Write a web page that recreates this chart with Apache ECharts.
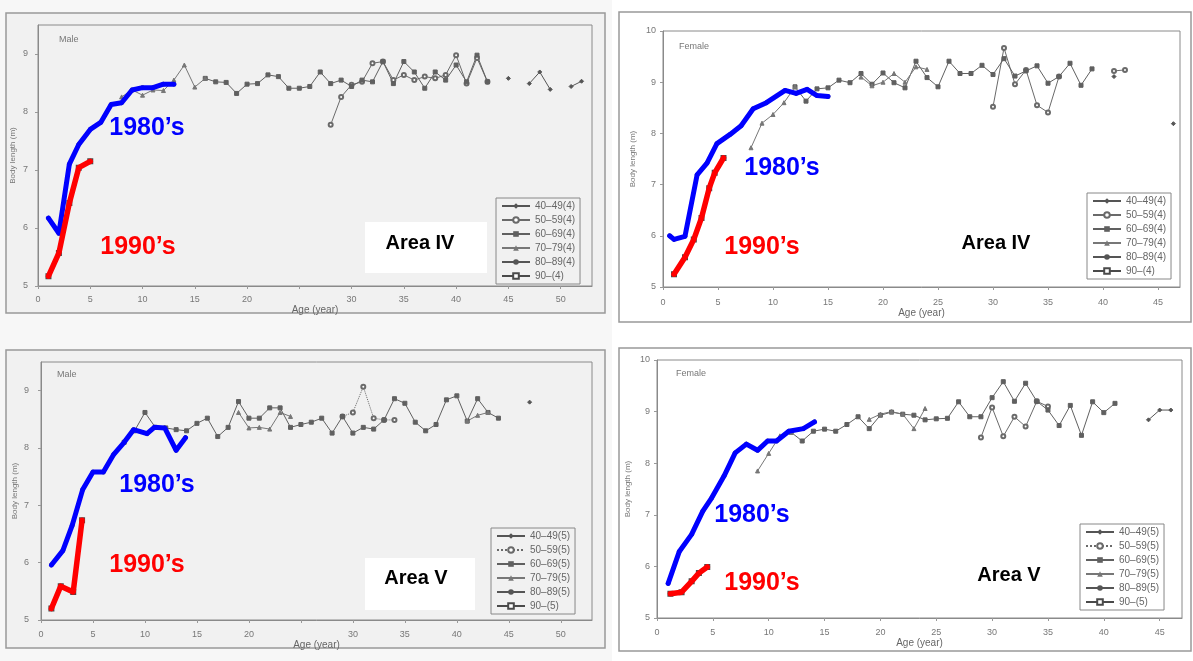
<!DOCTYPE html>
<html><head><meta charset="utf-8">
<script src="https://cdn.jsdelivr.net/npm/echarts@6/dist/echarts.min.js"></script>
<style>html,body{margin:0;padding:0;background:#fff}#c{width:1193px;height:661px}</style>
</head><body><div id="c"></div>
<script>
// ---------------- DATA ----------------
const legendIV = ['40–49(4)', '50–59(4)', '60–69(4)', '70–79(4)', '80–89(4)', '90–(4)'];
const legendV  = ['40–49(5)', '50–59(5)', '60–69(5)', '70–79(5)', '80–89(5)', '90–(5)'];
const xTicksMale = [0, 5, 10, 15, 20, 25, 30, 35, 40, 45, 50];
const xTicksFemale = [0, 5, 10, 15, 20, 25, 30, 35, 40, 45];

// Area IV, male
const maleIV_1980s = [[1,6.17],[2,5.91],[3,7.10],[3.9,7.44],[5,7.70],[6,7.82],[7,8.13],[8,8.16],[9,8.38],[10,8.42],[11,8.42],[12,8.48],[13,8.48]];
const maleIV_1990s = [[1,5.17],[2,5.57],[3,6.43],[3.9,7.04],[5,7.15]];
const maleIV_40s = [[45,8.58],[46,'-'],[47,8.49],[48,8.69],[49,8.39],[50,'-'],[51,8.44],[52,8.53]];
const maleIV_50s = [[28,7.78],[29,8.26],[30,8.47],[31,8.52],[32,8.84],[33,8.87],[34,8.55],[35,8.64],[36,8.55],[37,8.61],[38,8.58],[39,8.64],[40,8.98],[41,8.49],[42,8.93],[43,8.52]];
const maleIV_60s = [[16,8.58],[17,8.52],[18,8.51],[19,8.32],[20,8.48],[21,8.49],[22,8.64],[23,8.61],[24,8.41],[25,8.41],[26,8.44],[27,8.69],[28,8.49],[29,8.55],[30,8.44],[31,8.55],[32,8.52],[33,8.87],[34,8.49],[35,8.87],[36,8.69],[37,8.41],[38,8.69],[39,8.55],[40,8.81],[41,8.52],[42,8.98],[43,8.52]];
const maleIV_70s = [[8,8.26],[9,8.38],[10,8.29],[11,8.38],[12,8.37],[13,8.55],[14,8.81],[15,8.43],[16,8.58]];

// Area IV, female
const femaleIV_1980s = [[0.6,6.00],[1,5.93],[2,5.99],[3.1,7.19],[4,7.42],[4.9,7.80],[6.1,7.98],[7.1,8.15],[8.2,8.48],[9.4,8.60],[11.1,8.84],[12.1,8.78],[13.1,8.86],[14,8.74],[15,8.72]];
const femaleIV_1990s = [[1,5.25],[2,5.58],[2.8,5.93],[3.5,6.35],[4.2,6.93],[4.7,7.23],[5.5,7.52]];
const femaleIV_40s = [[41,9.11],[42,'-'],[46.4,8.19]];
const femaleIV_50s = [[30,8.52],[31,9.67],[32,8.96],[33,9.24],[34,8.55],[35,8.41],[36,9.11],[37,'-'],[41,9.22],[42,9.24]];
const femaleIV_60s = [[12,8.91],[13,8.63],[14,8.87],[15,8.89],[16,9.04],[17,8.99],[18,9.17],[19,8.96],[20,9.18],[21,8.99],[22,8.89],[23,9.41],[24,9.09],[25,8.91],[26,9.41],[27,9.17],[28,9.17],[29,9.33],[30,9.15],[31,9.46],[32,9.12],[33,9.22],[34,9.32],[35,8.98],[36,9.11],[37,9.37],[38,8.94],[39,9.26]];
const femaleIV_70s = [[8,7.72],[9,8.20],[10,8.37],[11,8.60],[12,8.91],[13,'-'],[18,9.10],[19,8.93],[20,9.00],[21,9.17],[22,9.00],[23,9.30],[24,9.25]];

// Area V, male
const maleV_1980s = [[1,5.96],[2.1,6.21],[3,6.65],[4,7.27],[5,7.58],[6,7.58],[7,7.89],[8,8.10],[8.9,8.32],[10.2,8.25],[10.9,8.36],[11.9,8.35],[13,7.96],[13.9,8.18]];
const maleV_1990s = [[1,5.20],[1.9,5.59],[3.1,5.49],[3.95,6.74]];
const maleV_40s = [[47,8.80]];
const maleV_50s = [[29,8.55],[30,8.62],[31,9.07],[32,8.52],[33,8.49],[34,8.49]];
const maleV_60s = [[8,8.10],[9,8.30],[10,8.62],[11,8.36],[12,8.35],[13,8.32],[14,8.30],[15,8.43],[16,8.52],[17,8.20],[18,8.36],[19,8.81],[20,8.52],[21,8.52],[22,8.70],[23,8.70],[24,8.36],[25,8.41],[26,8.45],[27,8.52],[28,8.26],[29,8.55],[30,8.26],[31,8.36],[32,8.33],[33,8.49],[34,8.86],[35,8.78],[36,8.45],[37,8.30],[38,8.41],[39,8.84],[40,8.91],[41,8.47],[42,8.86],[43,8.62],[44,8.52]];
const maleV_70s = [[19,8.62],[20,8.35],[21,8.36],[22,8.33],[23,8.62],[24,8.55],[25,'-'],[41,8.47],[42,8.57],[43,8.62]];

// Area V, female
const femaleV_1980s = [[1,5.67],[2,6.29],[3.1,6.62],[4.1,7.07],[4.9,7.33],[6,7.75],[7,8.20],[8,8.37],[9,8.25],[9.9,8.43],[10.7,8.43],[11.8,8.62],[13.1,8.67],[14.1,8.80]];
const femaleV_1990s = [[1.2,5.47],[2.2,5.50],[3.1,5.71],[3.75,5.87],[4.5,5.99]];
const femaleV_40s = [[44,8.84],[45,9.03],[46,9.03]];
const femaleV_50s = [[29,8.50],[30,9.08],[31,8.52],[32,8.90],[33,8.71],[34,9.20],[35,9.10]];
const femaleV_60s = [[12,8.60],[13,8.43],[14,8.62],[15,8.66],[16,8.62],[17,8.75],[18,8.90],[19,8.67],[20,8.93],[21,8.99],[22,8.95],[23,8.93],[24,8.84],[25,8.86],[26,8.87],[27,9.19],[28,8.90],[29,8.90],[30,9.27],[31,9.58],[32,9.20],[33,9.55],[34,9.20],[35,9.03],[36,8.73],[37,9.12],[38,8.54],[39,9.19],[40,8.98],[41,9.16]];
const femaleV_70s = [[9,7.85],[10,8.19],[11,8.53],[12,8.60],[13,'-'],[19,8.85],[20,8.95],[21,9.00],[22,8.95],[23,8.67],[24,9.06]];

// ---------------- LAYOUT ----------------
const FONT = '"Liberation Sans", Arial, sans-serif';
const panels = [
  { grid:{left:38, top:25, width:554, height:261}, xMax:53, yMax:9.5, male:true, xm:9, ym:10, ng:9, yng:21, bg:'#f1f1f1',
    legend: legendIV, legendPos:{left:496, top:198},
    grey:[maleIV_40s, maleIV_50s, maleIV_60s, maleIV_70s, maleIV_1980s, maleIV_1990s], blue:maleIV_1980s, red:maleIV_1990s },
  { grid:{left:663, top:31, width:517, height:256}, xMax:47, yMax:10, male:false, xm:11, ym:7, ng:20, yng:26, bg:'#ffffff',
    legend: legendIV, legendPos:{left:1087, top:193},
    grey:[femaleIV_40s, femaleIV_50s, femaleIV_60s, femaleIV_70s, femaleIV_1980s, femaleIV_1990s], blue:femaleIV_1980s, red:femaleIV_1990s },
  { grid:{left:41, top:362, width:551, height:258}, xMax:53, yMax:9.5, male:true, xm:10, ym:12, ng:10, yng:22, bg:'#f1f1f1',
    legend: legendV, legendPos:{left:491, top:528},
    grey:[maleV_40s, maleV_50s, maleV_60s, maleV_70s, maleV_1980s, maleV_1990s], blue:maleV_1980s, red:maleV_1990s },
  { grid:{left:657, top:360, width:525, height:258}, xMax:47, yMax:10, male:false, xm:10, ym:7, ng:19, yng:25, bg:'#ffffff',
    legend: legendV, legendPos:{left:1080, top:524},
    grey:[femaleV_40s, femaleV_50s, femaleV_60s, femaleV_70s, femaleV_1980s, femaleV_1990s], blue:femaleV_1980s, red:femaleV_1990s }
];
const symbols = ['diamond','emptyCircle','rect','triangle','circle','emptyRect'];
const greys = ['#555','#6a6a6a','#606060','#777','#555','#4a4a4a'];

const grid = [], xAxis = [], yAxis = [], series = [], legend = [];
panels.forEach((p, i) => {
  grid.push(Object.assign({show:true, borderColor:'#8a8a8a', borderWidth:1, backgroundColor:p.bg, containLabel:false}, p.grid));
  xAxis.push({
    type:'value', gridIndex:i, min:0, max:p.xMax, interval:5,
    name:'Age (year)', nameLocation:'middle', nameGap:p.ng,
    nameTextStyle:{fontSize:10, color:'#666', fontFamily:FONT},
    axisLine:{show:true, onZero:false, lineStyle:{color:'#8a8a8a'}},
    axisTick:{show:true, length:3, lineStyle:{color:'#999'}},
    axisLabel:{margin:p.xm, fontSize:9, color:'#777', fontFamily:FONT, showMaxLabel:false,
      formatter: v => (p.male && v === 25) ? '' : String(v)},
    splitLine:{show:false}
  });
  yAxis.push({
    type:'value', gridIndex:i, min:5, max:p.yMax, interval:1,
    name:'Body length (m)', nameLocation:'middle', nameGap:p.yng, nameRotate:90,
    nameTextStyle:{fontSize:8, color:'#777', fontFamily:FONT},
    axisLine:{show:true, onZero:false, lineStyle:{color:'#8a8a8a'}},
    axisTick:{show:true, length:3, lineStyle:{color:'#999'}},
    axisLabel:{margin:p.ym, fontSize:9, color:'#777', fontFamily:FONT, showMaxLabel: p.yMax === 10},
    splitLine:{show:false}
  });
  p.legend.forEach((name, k) => {
    series.push({
      type:'line', name:name, xAxisIndex:i, yAxisIndex:i, data:p.grey[k],
      symbol:symbols[k], symbolSize:4, showSymbol:true, connectNulls:false,
      lineStyle:{width:1, color:greys[k], type:(i===2 && k===1) ? 'dotted' : 'solid'},
      itemStyle:{color:greys[k], borderColor:greys[k]},
      z:2, silent:true, animation:false
    });
  });
  series.push({type:'line', name:'1980s-'+i, xAxisIndex:i, yAxisIndex:i, data:p.blue, symbol:'none', showSymbol:false,
    lineStyle:{width:5, color:'#0000ff', join:'round', cap:'round'}, itemStyle:{color:'#0000ff'}, z:6, silent:true, animation:false});
  series.push({type:'line', name:'1990s-'+i, xAxisIndex:i, yAxisIndex:i, data:p.red, symbol:'none', showSymbol:false,
    lineStyle:{width:5.5, color:'#ff0000', join:'round', cap:'round'}, itemStyle:{color:'#ff0000'}, z:6, silent:true, animation:false});
  legend.push({
    data:p.legend, orient:'vertical', left:p.legendPos.left, top:p.legendPos.top,
    backgroundColor:p.bg, borderColor:'#888', borderWidth:1, padding:[3,5,3,5],
    itemWidth:28, itemHeight:7, itemGap:4, selectedMode:false,
    textStyle:{fontSize:10, lineHeight:10, color:'#666', fontFamily:FONT}
  });
});

// annotations
function txt(text, x, y, font, fill, align) {
  return {type:'text', z:20, style:{text:text, x:x, y:y, font:font, fill:fill, align:align||'center', verticalAlign:'middle'}};
}
const big = 'bold 25px ' + FONT, area = 'bold 20px ' + FONT, small = '9px ' + FONT;
const graphic = [
  {type:'rect', z:-20, shape:{x:0, y:0, width:612, height:661}, style:{fill:'#f7f7f7'}},
  {type:'rect', z:-10, shape:{x:6, y:13, width:599, height:300}, style:{fill:'#f1f1f1', stroke:'#999', lineWidth:1.5}},
  {type:'rect', z:-10, shape:{x:619, y:12, width:572, height:310}, style:{fill:'#ffffff', stroke:'#999', lineWidth:1.5}},
  {type:'rect', z:-10, shape:{x:6, y:350, width:599, height:298}, style:{fill:'#f1f1f1', stroke:'#999', lineWidth:1.5}},
  {type:'rect', z:-10, shape:{x:619, y:348, width:572, height:303}, style:{fill:'#ffffff', stroke:'#999', lineWidth:1.5}},
  {type:'rect', z:15, shape:{x:365, y:222, width:122, height:51}, style:{fill:'#ffffff'}},
  {type:'rect', z:15, shape:{x:365, y:558, width:110, height:52}, style:{fill:'#ffffff'}},
  txt('1980’s', 147, 128, big, '#0000ff'),
  txt('1990’s', 138, 247, big, '#ff0000'),
  txt('Area IV', 420, 243, area, '#000'),
  txt('1980’s', 782, 168, big, '#0000ff'),
  txt('1990’s', 762, 247, big, '#ff0000'),
  txt('Area IV', 996, 243, area, '#000'),
  txt('1980’s', 157, 485, big, '#0000ff'),
  txt('1990’s', 147, 565, big, '#ff0000'),
  txt('Area V', 416, 578, area, '#000'),
  txt('1980’s', 752, 515, big, '#0000ff'),
  txt('1990’s', 762, 583, big, '#ff0000'),
  txt('Area V', 1009, 575, area, '#000'),
  txt('Male', 59, 40, small, '#777', 'left'),
  txt('Female', 679, 47, small, '#777', 'left'),
  txt('Male', 57, 375, small, '#777', 'left'),
  txt('Female', 676, 374, small, '#777', 'left')
];

const chart = echarts.init(document.getElementById('c'), null, {renderer:'canvas'});
chart.setOption({animation:false, backgroundColor:'#ffffff', grid, xAxis, yAxis, series, legend, graphic, tooltip:{show:false}});
</script></body></html>
